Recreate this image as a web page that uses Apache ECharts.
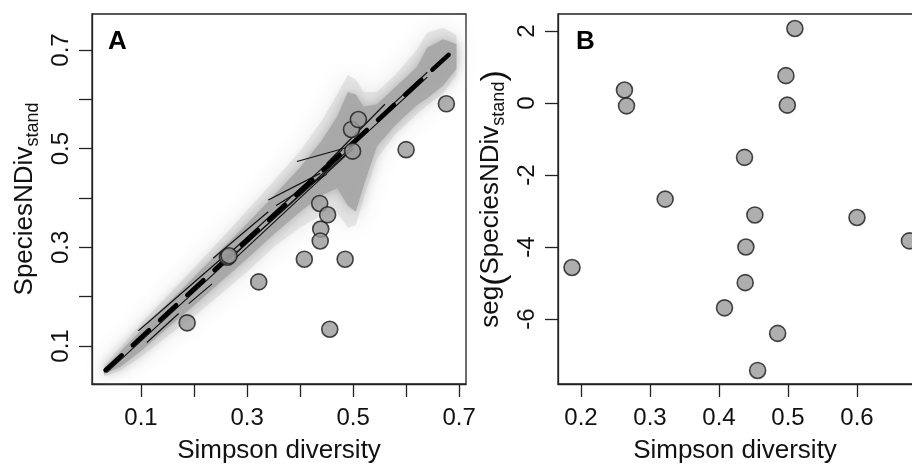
<!DOCTYPE html>
<html><head><meta charset="utf-8">
<script src="https://cdn.jsdelivr.net/npm/echarts@6/dist/echarts.min.js"></script>
<style>html,body{margin:0;padding:0;background:#fff}#c{width:912px;height:467px}</style>
</head><body><div id="c"></div>
<script>
// ---- data ----
const simpson = [0.187,0.263,0.266,0.322,0.408,0.437,0.439,0.438,0.452,0.456,0.485,0.497,0.499,0.510,0.600,0.676];
const speciesNDivStand = [0.147,0.280,0.283,0.230,0.276,0.389,0.337,0.313,0.366,0.134,0.276,0.539,0.495,0.559,0.498,0.591];
const segSpeciesNDiv = [-4.57,0.36,-0.08,-2.67,-5.69,-1.51,-4.00,-4.99,-3.11,-7.43,-6.40,0.76,-0.06,2.07,-3.18,-3.83];

// simulated-cloud envelope: x, upper y, lower y
const cloudX     = [0.030,0.060,0.100,0.150,0.200,0.250,0.300,0.350,0.400,0.440,0.470,0.490,0.505,0.520,0.545,0.580,0.620,0.640,0.670,0.695];
const cloudUpper = [0.055,0.088,0.132,0.186,0.240,0.294,0.348,0.404,0.462,0.515,0.565,0.615,0.610,0.585,0.590,0.625,0.665,0.705,0.722,0.712];
const cloudLower = [0.043,0.057,0.090,0.137,0.182,0.230,0.277,0.326,0.372,0.405,0.420,0.385,0.372,0.425,0.505,0.548,0.588,0.602,0.628,0.662];
const haloUpper  = [0.060,0.096,0.145,0.202,0.258,0.316,0.374,0.434,0.495,0.555,0.610,0.650,0.640,0.615,0.615,0.650,0.700,0.735,0.745,0.730];
const haloLower  = [0.038,0.050,0.078,0.120,0.160,0.205,0.250,0.300,0.340,0.365,0.370,0.340,0.345,0.400,0.480,0.530,0.570,0.588,0.612,0.650];

// fitted lines [x1, y1, x2, y2]
const overallFit = [0.033, 0.051, 0.686, 0.696];
const thinFits = [
  [0.035,0.046,0.640,0.645],
  [0.095,0.131,0.262,0.287],
  [0.111,0.107,0.171,0.166],
  [0.190,0.186,0.234,0.226],
  [0.236,0.278,0.340,0.372],
  [0.262,0.273,0.490,0.492],
  [0.268,0.268,0.500,0.500],
  [0.262,0.283,0.480,0.498],
  [0.340,0.396,0.438,0.450],
  [0.355,0.385,0.450,0.448],
  [0.394,0.474,0.497,0.505],
  [0.450,0.470,0.560,0.590],
  [0.560,0.575,0.640,0.655]
];

const xTicksA = [0.1,0.2,0.3,0.4,0.5,0.6,0.7];
const xLabelsA = [0.1,0.3,0.5,0.7];
const yTicksA = [0.1,0.2,0.3,0.4,0.5,0.6,0.7];
const yLabelsA = [0.1,0.3,0.5,0.7];
const xTicksB = [0.2,0.3,0.4,0.5,0.6,0.7];
const xLabelsB = [0.2,0.3,0.4,0.5,0.6];
const yTicksB = [-6,-4,-2,0,2];

// ---- chart ----
const FF = 'Liberation Sans, Arial, Helvetica, sans-serif';
const chart = echarts.init(document.getElementById('c'), null, {renderer:'canvas'});
const tickStyle = {show:true, inside:false, length:13, lineStyle:{color:'#222', width:1.3}};
const lineAx = {show:true, onZero:false, lineStyle:{color:'#222', width:1.3}};
const lab = {fontSize:24, color:'#111', fontFamily:FF};

function polyRender(xs, ys1, ys2, fill, blur){
  return function(params, api){
    const pts = [];
    for (let i=0;i<xs.length;i++) pts.push(api.coord([xs[i], ys1[i]]));
    for (let i=xs.length-1;i>=0;i--) pts.push(api.coord([xs[i], ys2[i]]));
    return {type:'polygon', shape:{points:pts},
      style:{fill:fill, shadowBlur:blur, shadowColor:fill}};
  };
}

const series = [];
series.push({type:'custom', xAxisIndex:0, yAxisIndex:0, data:[[0.3,0.3]], z:1, silent:true,
  renderItem: polyRender(cloudX, haloUpper, haloLower, 'rgba(222,222,222,0.8)', 22)});
series.push({type:'custom', xAxisIndex:0, yAxisIndex:0, data:[[0.3,0.3]], z:2, silent:true,
  renderItem: polyRender(cloudX, cloudUpper, cloudLower, 'rgba(168,168,168,0.95)', 12)});
thinFits.forEach(s => series.push({type:'line', xAxisIndex:0, yAxisIndex:0, z:3, silent:true,
  data:[[s[0],s[1]],[s[2],s[3]]], symbol:'none', lineStyle:{color:'#111', width:1.2}}));
series.push({type:'line', xAxisIndex:0, yAxisIndex:0, z:4, silent:true,
  data:[[overallFit[0],overallFit[1]],[overallFit[2],overallFit[3]]], symbol:'none',
  lineStyle:{color:'#000', width:4.5, type:[22,15], cap:'round'}});
const ptStyle = {color:'#9a9a9a', borderColor:'#1a1a1a', borderWidth:1.6};
series.push({type:'scatter', xAxisIndex:0, yAxisIndex:0, z:5, symbolSize:16,
  data: simpson.map((x,i)=>[x, speciesNDivStand[i]]), itemStyle:ptStyle});
series.push({type:'scatter', xAxisIndex:1, yAxisIndex:1, z:5, symbolSize:16,
  data: simpson.map((x,i)=>[x, segSpeciesNDiv[i]]), itemStyle:ptStyle});

const fmt = v => String(Math.round(v*10)/10);

chart.setOption({
  animation:false,
  backgroundColor:'#fff',
  title:[
    {text:'A', left:108, top:29, padding:0, textStyle:{fontSize:26, fontWeight:'bold', color:'#000', fontFamily:FF}},
    {text:'B', left:576, top:29, padding:0, textStyle:{fontSize:26, fontWeight:'bold', color:'#000', fontFamily:FF}}
  ],
  grid:[
    {left:92, top:14, width:374, height:370, show:true, borderColor:'#222', borderWidth:1.3, backgroundColor:'transparent', containLabel:false, outerBoundsMode:'none'},
    {left:558, top:14, width:374, height:370, show:true, borderColor:'#222', borderWidth:1.3, backgroundColor:'transparent', containLabel:false, outerBoundsMode:'none'}
  ],
  xAxis:[
    {type:'value', gridIndex:0, min:0.0075, max:0.713, splitLine:{show:false}, axisLine:lineAx,
     axisTick:Object.assign({customValues:xTicksA}, tickStyle),
     axisLabel:Object.assign({customValues:xLabelsA, margin:22, formatter:fmt}, lab),
     name:'Simpson diversity', nameLocation:'middle', nameGap:54,
     nameTextStyle:{fontSize:26, color:'#111', fontFamily:FF}},
    {type:'value', gridIndex:1, min:0.1667, max:0.7087, splitLine:{show:false}, axisLine:lineAx,
     axisTick:Object.assign({customValues:xTicksB}, tickStyle),
     axisLabel:Object.assign({customValues:xLabelsB, margin:22, formatter:fmt}, lab),
     name:'Simpson diversity', nameLocation:'middle', nameGap:54,
     nameTextStyle:{fontSize:26, color:'#111', fontFamily:FF, padding:[0,20,0,0]}}
  ],
  yAxis:[
    {type:'value', gridIndex:0, min:0.023, max:0.773, splitLine:{show:false}, axisLine:lineAx,
     axisTick:Object.assign({customValues:yTicksA}, tickStyle),
     axisLabel:Object.assign({customValues:yLabelsA, margin:19, rotate:90, formatter:fmt}, lab),
     name:'{m|SpeciesNDiv}{s|stand}', nameLocation:'middle', nameGap:50, nameRotate:90,
     nameTextStyle:{color:'#111', fontFamily:FF, rich:{
       m:{fontSize:26, fontFamily:FF, color:'#111', lineHeight:30, verticalAlign:'top'},
       s:{fontSize:18, fontFamily:FF, color:'#111', lineHeight:30, padding:[9,0,0,0], verticalAlign:'bottom'}}}},
    {type:'value', gridIndex:1, min:-7.806, max:2.472, splitLine:{show:false}, axisLine:lineAx,
     axisTick:Object.assign({customValues:yTicksB}, tickStyle),
     axisLabel:Object.assign({customValues:yTicksB, margin:19, rotate:90, formatter:v=>String(Math.round(v))}, lab),
     name:'{m|seg}{p|(}{m|SpeciesNDiv}{s|stand}{p|)}', nameLocation:'middle', nameGap:50, nameRotate:90,
     nameTextStyle:{color:'#111', fontFamily:FF, rich:{
       m:{fontSize:26, fontFamily:FF, color:'#111', lineHeight:30, verticalAlign:'top'},
       p:{fontSize:34, fontFamily:FF, color:'#111', lineHeight:30, verticalAlign:'top'},
       s:{fontSize:18, fontFamily:FF, color:'#111', lineHeight:30, padding:[9,0,0,0], verticalAlign:'bottom'}}}}
  ],
  series: series
});
</script></body></html>
